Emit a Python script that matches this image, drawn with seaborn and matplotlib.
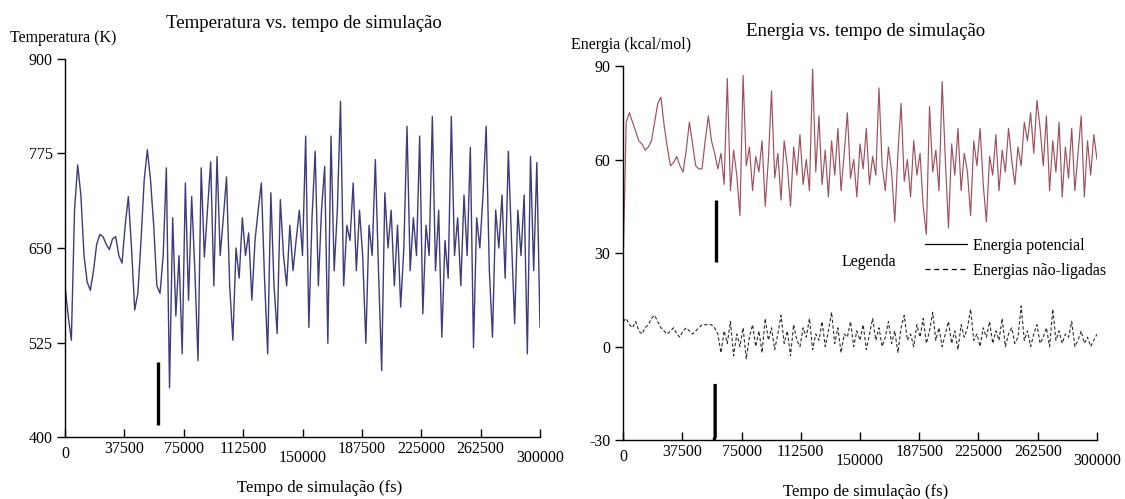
import numpy as np
import pandas as pd
import matplotlib
matplotlib.use("Agg")
import matplotlib.pyplot as plt
import matplotlib.transforms as mtransforms
from matplotlib.lines import Line2D
import seaborn as sns

# ---------------- data ----------------
temperatura = [
    600, 560, 528, 700, 760, 720, 640, 605, 594, 620,
    655, 668, 665, 655, 648, 662, 665, 640, 630, 680,
    718, 650, 568, 590, 660, 740, 780, 740, 680, 600,
    590, 640,
    756, 465, 690, 560, 640, 510, 736, 581, 718, 620,
    501, 756, 638, 700, 764, 600, 771, 640, 690, 744,
    600, 528, 650, 610, 690, 640, 670, 581, 660, 700,
    736, 610, 510, 723, 600, 537, 714, 640, 600, 680,
    620, 661, 700, 640, 798, 545, 690, 778, 600, 700,
    758, 524, 798, 620, 700, 844, 600, 680, 660, 736,
    620, 700, 640, 524, 680, 640, 767, 620, 488, 723,
    650, 700, 600, 680, 572, 650, 811, 620, 690, 640,
    798, 563, 680, 640, 824, 620, 700, 532, 660, 610,
    824, 640, 690, 600, 720, 640, 783, 518, 690, 650,
    720, 811, 620, 532, 700, 650, 720, 610, 778, 660,
    550, 700, 640, 720, 510, 771, 620, 763, 545,
]

energia_potencial = [
    25, 72, 75, 72, 69, 66, 65, 63, 64, 66,
    72, 78, 80, 71, 64, 58, 59, 61, 58, 56,
    63, 72, 65, 58, 57, 57, 66, 74, 66, 62,
    57,
    62, 52, 86, 50, 63, 55, 42, 87, 58, 64,
    50, 61, 56, 66, 45, 60, 82, 54, 62, 47,
    66, 58, 45, 64, 55, 68, 52, 60, 50, 89,
    56, 74, 52, 63, 48, 66, 55, 70, 50, 62,
    75, 54, 60, 48, 65, 57, 70, 52, 61, 55,
    83, 58, 50, 64, 56, 40, 62, 78, 53, 60,
    48, 66, 55, 62, 45, 36, 77, 56, 63, 50,
    85, 60, 38, 65, 55, 70, 50, 62, 56, 42,
    66, 58, 70, 52, 40, 61, 55, 68, 50, 63,
    56, 70, 60, 52, 64, 58, 72, 66, 75, 62,
    79, 70, 58, 74, 50, 66, 56, 72, 48, 64,
    54, 70, 50, 62, 74, 48, 66, 55, 68, 60,
]

energias_nao_ligadas = [
    8, 9, 7, 6, 8, 5, 4, 6, 7, 9,
    10, 8, 6, 5, 4, 5, 6, 4, 3, 5,
    6, 5, 4, 5, 6, 7, 7, 7, 7, 6,
    4,
    -2, 5, 1, 8, -3, 4, 0, 6, -4, 3,
    7, 0, 5, -2, 9, 2, 6, -1, 4, 10,
    1, 5, -3, 7, 2, 0, 6, 3, 9, -1,
    4, 2, 8, 0, 5, 11, 1, 6, -2, 4,
    3, 8, 0, 5, 2, 7, -1, 4, 9, 2,
    6, 0, 3, 8, 1, 5, -2, 6, 10, 2,
    4, 0, 7, 3, 9, 1, 5, 11, 2, 6,
    0, 4, 8, 1, 5, -1, 7, 3, 6, 12,
    2, 4, 0, 6, 3, 8, 1, 5, 2, 9,
    0, 4, 6, 1, 3, 13, 2, 5, 0, 4,
    7, 1, 3, 6, 0, 12, 2, 5, 1, 4,
    3, 8, 0, 2, 5, 1, 3, 0, 2, 4,
]

tempo_max = 300000
x_ticks = [0, 37500, 75000, 112500, 150000, 187500, 225000, 262500, 300000]
temp_ticks = [400, 525, 650, 775, 900]
energia_ticks = [-30, 0, 30, 60, 90]

# black marker bars seen in the figure
barra_temp_t = [58700, 58700]
barra_temp_v = [499, 416]
barra_en1_t = [58900, 58900]
barra_en1_v = [47, 27]
barra_en2_t = [58300, 58300, 57600]
barra_en2_v = [-12, -29, -30]

# ---------------- style ----------------
sns.set_theme(style="white")
plt.rcParams["font.family"] = ["Liberation Serif", "DejaVu Serif"]
plt.rcParams["text.color"] = "black"
plt.rcParams["axes.labelcolor"] = "black"
plt.rcParams["xtick.color"] = "black"
plt.rcParams["ytick.color"] = "black"

fig = plt.figure(figsize=(11.25, 4.99), dpi=100)
ax1 = fig.add_axes([0.0578, 0.1242, 0.4222, 0.7576])
ax2 = fig.add_axes([0.5538, 0.1182, 0.4213, 0.7495])

t_temp = np.linspace(0, tempo_max, len(temperatura))
t_pot = np.linspace(0, tempo_max, len(energia_potencial))
t_nl = np.linspace(0, tempo_max, len(energias_nao_ligadas))

df_temp = pd.DataFrame({"tempo": t_temp, "temperatura": temperatura})
df_pot = pd.DataFrame({"tempo": t_pot, "energia": energia_potencial})
df_nl = pd.DataFrame({"tempo": t_nl, "energia": energias_nao_ligadas})

sns.lineplot(data=df_temp, x="tempo", y="temperatura", ax=ax1,
             color="#3c3c7c", linewidth=1.0, estimator=None, sort=False)
sns.lineplot(data=df_pot, x="tempo", y="energia", ax=ax2,
             color="#a0505c", linewidth=0.85, estimator=None, sort=False)
sns.lineplot(data=df_nl, x="tempo", y="energia", ax=ax2,
             color="#2a2a2a", linewidth=0.8, linestyle=(0, (3, 2)),
             estimator=None, sort=False)

ax1.plot(barra_temp_t, barra_temp_v, color="black", linewidth=2.4, solid_capstyle="butt")
ax2.plot(barra_en1_t, barra_en1_v, color="black", linewidth=2.4, solid_capstyle="butt")
ax2.plot(barra_en2_t, barra_en2_v, color="black", linewidth=2.4, solid_capstyle="butt")


def style_axis(ax, yticks):
    ax.set_xlim(0, tempo_max)
    ax.set_ylim(yticks[0], yticks[-1])
    ax.set_xticks(x_ticks)
    ax.set_xticklabels([str(v) for v in x_ticks])
    ax.set_yticks(yticks)
    ax.set_yticklabels([str(v) for v in yticks])
    ax.set_xlabel("")
    ax.set_ylabel("")
    for s in ["top", "right"]:
        ax.spines[s].set_visible(False)
    for s in ["left", "bottom"]:
        ax.spines[s].set_color("black")
        ax.spines[s].set_linewidth(1.0)
    ax.tick_params(axis="x", direction="in", length=6, width=1.0, colors="black",
                   labelsize=11.5, pad=3, bottom=True)
    ax.tick_params(axis="y", direction="out", length=6, width=1.0, colors="black",
                   labelsize=11.5, pad=3, left=True)
    # staggered tick labels like in the original (offsets in pixels)
    offsets = {0: -5, 150000: -9, 300000: -9}
    for val, lab in zip(x_ticks, ax.get_xticklabels()):
        dy = offsets.get(val, 0)
        if dy:
            lab.set_transform(lab.get_transform() +
                              mtransforms.ScaledTranslation(0, dy / 100, fig.dpi_scale_trans))
    ax.set_facecolor("white")


style_axis(ax1, temp_ticks)
style_axis(ax2, energia_ticks)

# titles and axis labels placed as in the reference
fig.text(304 / 1125, 1 - 23 / 499, "Temperatura vs. tempo de simulação",
         ha="center", va="center", fontsize=13.5)
fig.text(10 / 1125, 1 - 38 / 499, "Temperatura (K)", ha="left", va="center", fontsize=11.5)
fig.text(320 / 1125, 1 - 488 / 499, "Tempo de simulação (fs)",
         ha="center", va="center", fontsize=12)

fig.text(866 / 1125, 1 - 31 / 499, "Energia vs. tempo de simulação",
         ha="center", va="center", fontsize=13.5)
fig.text(571 / 1125, 1 - 45 / 499, "Energia (kcal/mol)", ha="left", va="center", fontsize=11.5)
fig.text(866 / 1125, 1 - 492 / 499, "Tempo de simulação (fs)",
         ha="center", va="center", fontsize=12)

# legend
fig.text(842 / 1125, 1 - 262 / 499, "Legenda", ha="left", va="center", fontsize=11.5)
handles = [
    Line2D([0], [0], color="black", linewidth=0.9, linestyle="-"),
    Line2D([0], [0], color="black", linewidth=0.9, linestyle=(0, (4, 3))),
]
fig.legend(handles, ["Energia potencial", "Energias não-ligadas"],
           loc="upper left", bbox_to_anchor=(925 / 1125, 1 - 238 / 499),
           frameon=False, fontsize=11.5, handlelength=2.6, handletextpad=0.4,
           labelspacing=0.55, borderpad=0.0, borderaxespad=0.0)

fig.savefig("out.png", dpi=100, facecolor="white")
